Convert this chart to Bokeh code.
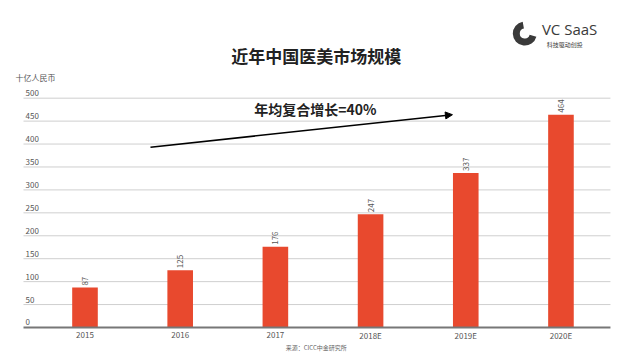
import math
from bokeh.plotting import figure
from bokeh.models import Range1d, ColumnDataSource, Arrow, NormalHead
from bokeh.core.properties import value
from bokeh.embed import file_html
from bokeh.resources import INLINE

# ---- data ----
years = ["2015", "2016", "2017", "2018E", "2019E", "2020E"]
market = [87, 125, 176, 247, 337, 464]
y_ticks = [0, 50, 100, 150, 200, 250, 300, 350, 400, 450, 500]
y_tick_labels = ["0", "50", "100", "150", "200", "250", "300", "350", "400", "450", "500"]
title_text = "近年中国医美市场规模"
unit_text = "十亿人民币"
cagr_text = "年均复合增长=40%"
source_text = "来源：CICC中金研究所"
brand_text = "VC SaaS"
brand_sub = "科技驱动创投"

CJK = "Noto Sans CJK SC"
BAR = "#E8492E"
GREY = "#555555"

xs = list(range(len(years)))

p = figure(width=627, height=354, output_backend="svg", toolbar_location=None,
           x_range=Range1d(-0.8876, 5.699), y_range=Range1d(-58.9, 713.0),
           min_border_left=0, min_border_right=0, min_border_top=0, min_border_bottom=0)
p.outline_line_color = None
p.background_fill_color = "white"
p.border_fill_color = "white"
p.xgrid.visible = False
p.ygrid.visible = False
p.xaxis.visible = False
p.yaxis.visible = False

GX0, GX1 = -0.646, 5.52

# gridlines
grid_src = ColumnDataSource(dict(y=y_ticks[1:], x0=[GX0] * (len(y_ticks) - 1), x1=[GX1] * (len(y_ticks) - 1)))
p.segment(x0="x0", x1="x1", y0="y", y1="y", source=grid_src, line_color="#cfcfcf", line_width=1)

# y tick labels
lab_src = ColumnDataSource(dict(y=y_ticks, t=y_tick_labels, x=[GX0] * len(y_ticks)))
p.text(x="x", y="y", text="t", source=lab_src, x_offset=2, y_offset=-2,
       text_font=value(CJK), text_font_size="8px", text_color=GREY,
       text_align="left", text_baseline="bottom")

# bars
bar_src = ColumnDataSource(dict(x=xs, top=market, t=[str(v) for v in market], yr=years,
                                ly=[-17.4] * len(years)))
p.vbar(x="x", top="top", width=0.269, source=bar_src, fill_color=BAR, line_color=None)

# baseline
p.segment(x0=[GX0], x1=[GX1], y0=[0], y1=[0], line_color="#777777", line_width=2)

# x category labels
p.text(x="x", y="ly", text="yr", source=bar_src, text_font=value(CJK), text_font_size="8px",
       text_color=GREY, text_align="center", text_baseline="middle")

# value labels (rotated)
p.text(x="x", y="top", text="t", source=bar_src, angle=math.pi / 2, y_offset=-2,
       text_font=value(CJK), text_font_size="8px", text_color=GREY,
       text_align="left", text_baseline="middle")

# title
p.text(x=[2.43], y=[593], text=[title_text], text_font=value(CJK), text_font_size="17px",
       text_font_style="bold", text_color="#222222", text_align="center", text_baseline="middle")

# unit
p.text(x=[-0.73], y=[546], text=[unit_text], text_font=value(CJK), text_font_size="8px",
       text_color=GREY, text_align="left", text_baseline="middle")

# source
p.text(x=[2.43], y=[-43.6], text=[source_text], text_font=value(CJK), text_font_size="6px",
       text_color="#666666", text_align="center", text_baseline="middle")

# CAGR arrow and text
p.add_layout(Arrow(x_start=0.688, y_start=393, x_end=3.86, y_end=464, line_color="black",
                   line_width=1.5, end=NormalHead(size=7, fill_color="black", line_color="black")))
p.text(x=[2.42], y=[477], text=[cagr_text], text_font=value(CJK), text_font_size="14px",
       text_font_style="bold", text_color="#222222", text_align="center", text_baseline="middle")

# logo
p.annular_wedge(x=[4.62], y=[641], inner_radius=5, outer_radius=12,
                inner_radius_units="screen", outer_radius_units="screen",
                start_angle=math.radians(100), end_angle=math.radians(-15),
                fill_color="#3a3a3a", line_color=None)
p.text(x=[4.80], y=[651], text=[brand_text], text_font=value("Open Sans"), text_font_size="15px",
       text_color="#3a3a3a", text_align="left", text_baseline="middle")
p.text(x=[4.85], y=[618], text=[brand_sub], text_font=value(CJK), text_font_size="6px",
       text_color="#3a3a3a", text_align="left", text_baseline="middle")

open("out.html", "w").write(file_html(p, INLINE))
